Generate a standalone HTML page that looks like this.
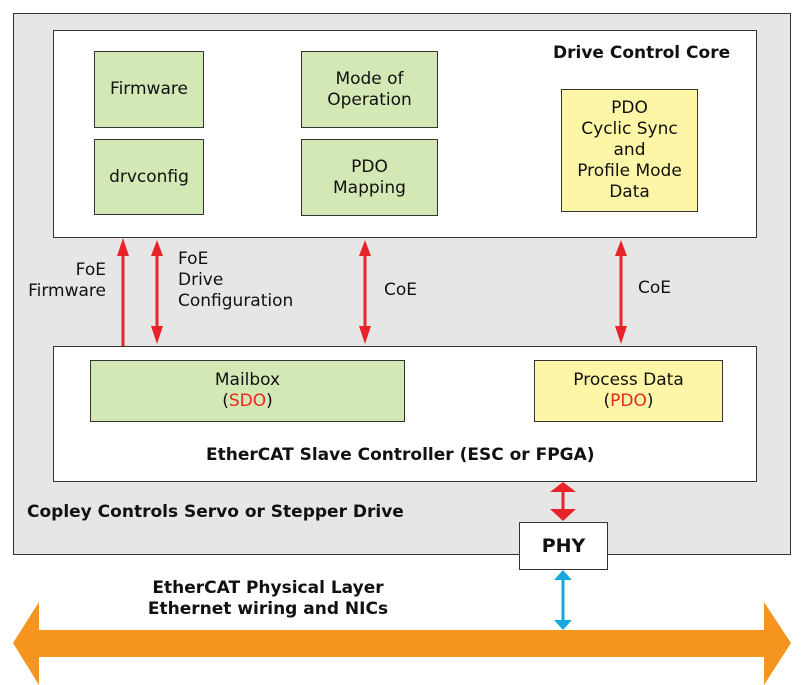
<html><head><style>
body{margin:0;width:803px;height:685px;background:#fff;position:relative;font-family:"DejaVu Sans","Liberation Sans",sans-serif;overflow:hidden}
.b{position:absolute;box-sizing:border-box;border:1.5px solid #333;display:flex;align-items:center;justify-content:center;text-align:center;font-size:17px;color:#111;line-height:21px}
.g{background:#d3e8b4}.y{background:#fdf6a6}
.t{position:absolute;font-size:17px;color:#111;line-height:21px}
.bold{font-weight:bold}
.r{color:#e8281e}
</style></head><body>
<div class="b" style="left:13px;top:13px;width:778px;height:542px;background:#e6e6e6"></div>
<div class="b" style="left:53px;top:30px;width:704px;height:208px;background:#fff"></div>
<div class="b" style="left:53px;top:346px;width:704px;height:136px;background:#fff"></div>
<div class="b g" style="left:94px;top:51px;width:110px;height:77px"><div>Firmware</div></div>
<div class="b g" style="left:94px;top:139px;width:110px;height:76px"><div>drvconfig</div></div>
<div class="b g" style="left:301px;top:51px;width:137px;height:77px"><div>Mode of<br>Operation</div></div>
<div class="b g" style="left:301px;top:139px;width:137px;height:77px"><div>PDO<br>Mapping</div></div>
<div class="b y" style="left:561px;top:89px;width:137px;height:123px"><div>PDO<br>Cyclic Sync<br>and<br>Profile Mode<br>Data</div></div>
<div class="b g" style="left:90px;top:360px;width:315px;height:62px"><div>Mailbox<br>(<span class="r">SDO</span>)</div></div>
<div class="b y" style="left:534px;top:360px;width:189px;height:62px"><div>Process Data<br>(<span class="r">PDO</span>)</div></div>
<div class="t bold" style="left:553px;top:43px">Drive Control Core</div>
<div class="t bold" style="left:206px;top:445px">EtherCAT Slave Controller (ESC or FPGA)</div>
<div class="t bold" style="left:27px;top:502px">Copley Controls Servo or Stepper Drive</div>
<div class="b bold" style="left:519px;top:522px;width:89px;height:48px;background:#fff;font-size:19px">PHY</div>
<div class="t bold" style="left:88px;top:578px;width:360px;text-align:center">EtherCAT Physical Layer<br>Ethernet wiring and NICs</div>
<div class="t" style="left:10px;top:260px;width:96px;text-align:right">FoE<br>Firmware</div>
<div class="t" style="left:178px;top:249px">FoE<br>Drive<br>Configuration</div>
<div class="t" style="left:384px;top:280px">CoE</div>
<div class="t" style="left:638px;top:278px">CoE</div>
<svg width="803" height="685" style="position:absolute;left:0;top:0">
<g fill="#e8232a" stroke="#e8232a" stroke-width="3">
<line x1="123" y1="252" x2="123" y2="346"/><polygon points="117,256 129,256 123,238" stroke="none"/>
<line x1="157" y1="252" x2="157" y2="330"/><polygon points="151,256 163,256 157,240" stroke="none"/><polygon points="151,326 163,326 157,344" stroke="none"/>
<line x1="365" y1="252" x2="365" y2="330"/><polygon points="359,256 371,256 365,240" stroke="none"/><polygon points="359,326 371,326 365,344" stroke="none"/>
<line x1="621" y1="252" x2="621" y2="330"/><polygon points="615,256 627,256 621,240" stroke="none"/><polygon points="615,326 627,326 621,344" stroke="none"/>
<line x1="563" y1="490" x2="563" y2="512"/><polygon points="550,492 576,492 563,482" stroke="none"/><polygon points="550,509 576,509 563,521" stroke="none"/>
</g>
<g fill="#1aa6df" stroke="#1aa6df" stroke-width="3">
<line x1="563" y1="580" x2="563" y2="620"/><polygon points="554,580 572,580 563,570" stroke="none"/><polygon points="554,620 572,620 563,630" stroke="none"/>
</g>
<polygon fill="#f5951f" points="13,643 39,602 39,630 764,630 764,602 791,643 764,685 764,657 39,657 39,685"/>
</svg>
</body></html>
